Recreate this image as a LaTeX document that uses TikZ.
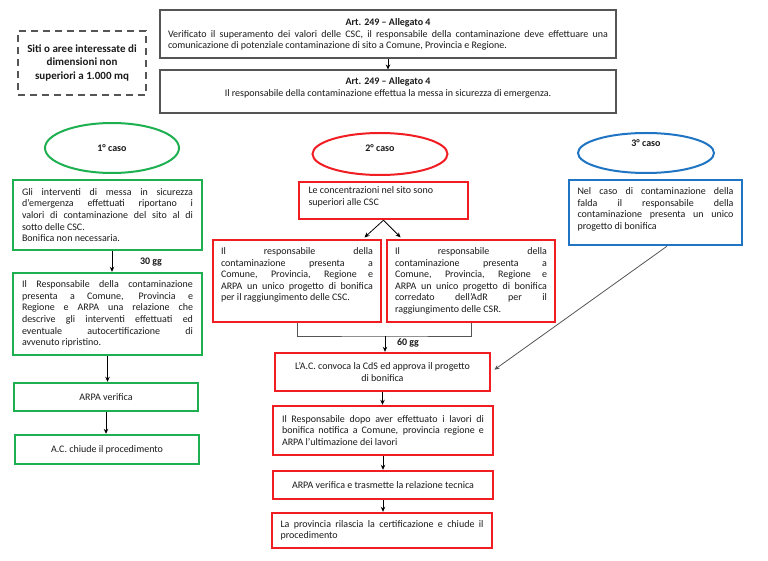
\documentclass[tikz,border=0pt]{standalone}
\usepackage{fontspec}
\setmainfont{Carlito}
\usetikzlibrary{shapes.geometric,arrows.meta}
\definecolor{cgreen}{HTML}{1DAF50}
\definecolor{cred}{HTML}{F01E23}
\definecolor{cblue}{HTML}{1F75C4}
\definecolor{cgray}{HTML}{555555}
\definecolor{txt}{HTML}{1A1A1A}
\newcommand\bxt[3]{\parbox[c][#2][t]{#1}{#3}}
\begin{document}
\begin{tikzpicture}[x=1pt,y=-1pt,
  every node/.style={font=\fontsize{10}{11.6}\selectfont, text=txt},
  box/.style={draw, rectangle, inner sep=0pt, anchor=center},
  gbox/.style={box, draw=cgreen, line width=2.4pt},
  rbox/.style={box, draw=cred, line width=2.4pt},
  bbox/.style={box, draw=cblue, line width=2.4pt},
  kbox/.style={box, draw=cgray, line width=1.1pt},
  dbox/.style={box, draw=cgray, line width=1.8pt, dash pattern=on 7pt off 5pt, align=center, font=\bfseries\fontsize{11}{13.8}\selectfont},
  oval/.style={ellipse, line width=2pt, inner sep=0pt, font=\bfseries\fontsize{10}{12}\selectfont},
  arr/.style={-{Stealth[length=5pt,width=4.5pt]}, line width=0.8pt, draw=black},
  lbl/.style={font=\bfseries\fontsize{10}{12}\selectfont}
]
\path[use as bounding box, fill=white] (0,0) rectangle (768,561);

% top
\node[dbox, minimum width=128, minimum height=64] (dash) at (82,63) {Siti o aree interessate di\\dimensioni non\\superiori a 1.000 mq};
\node[kbox, minimum width=456, minimum height=48] (t1) at (388,34) {\bxt{440pt}{31pt}{{\centering\textbf{Art. 249 – Allegato 4}\par}Verificato il superamento dei valori delle CSC, il responsabile della contaminazione deve effettuare una\linebreak comunicazione di potenziale contaminazione di sito a Comune, Provincia e Regione.}};
\node[kbox, minimum width=456, minimum height=43] (t2) at (388,91.5) {\bxt{440pt}{28pt}{\centering\textbf{Art. 249 – Allegato 4}\par Il responsabile della contaminazione effettua la messa in sicurezza di emergenza.\par}};

% case 1
\node[oval, draw=cgreen, minimum width=134, minimum height=50] (e1) at (112,148) {1° caso};
\node[gbox, minimum width=189, minimum height=70] (g1) at (107.5,215) {\parbox{171pt}{Gli interventi di messa in sicurezza\linebreak d’emergenza effettuati riportano i\linebreak valori di contaminazione del sito al di\linebreak sotto delle CSC.\par Bonifica non necessaria.}};
\node[gbox, minimum width=189, minimum height=82] (g2) at (107.5,314) {\parbox{171pt}{Il Responsabile della contaminazione\linebreak presenta a Comune, Provincia e\linebreak Regione e ARPA una relazione che\linebreak descrive gli interventi effettuati ed\linebreak eventuale autocertificazione di\linebreak avvenuto ripristino.}};
\node[gbox, minimum width=184, minimum height=28] (g3) at (106,397) {ARPA verifica};
\node[gbox, minimum width=184, minimum height=29] (g4) at (107,449.5) {A.C. chiude il procedimento};
\node[lbl] (l30) at (151,262) {30 gg};

% case 2
\node[oval, draw=cred, minimum width=135, minimum height=42, text depth=12pt] (e2) at (380,154) {2° caso};
\node[rbox, minimum width=169, minimum height=37] (r1) at (383.5,200.5) {\bxt{150pt}{28pt}{\raggedright Le concentrazioni nel sito sono\\superiori alle CSC}};
\node[rbox, minimum width=168, minimum height=82] (r2) at (297,281) {\bxt{152pt}{67pt}{Il responsabile della\linebreak contaminazione presenta a\linebreak Comune, Provincia, Regione e\linebreak ARPA un unico progetto di bonifica\linebreak per il raggiungimento delle CSC.}};
\node[rbox, minimum width=168, minimum height=82] (r3) at (471,281) {\bxt{152pt}{67pt}{Il responsabile della\linebreak contaminazione presenta a\linebreak Comune, Provincia, Regione e\linebreak ARPA un unico progetto di bonifica\linebreak corredato dell’AdR per il\linebreak raggiungimento delle CSR.}};
\node[rbox, minimum width=215, minimum height=38] (r4) at (382.5,372) {\parbox{200pt}{\centering L’A.C. convoca la CdS ed approva il progetto\\di bonifica}};
\node[rbox, minimum width=220, minimum height=49] (r5) at (383,430.5) {\parbox{202pt}{Il Responsabile dopo aver effettuato i lavori di\linebreak bonifica notifica a Comune, provincia regione e\linebreak ARPA l’ultimazione dei lavori}};
\node[rbox, minimum width=220, minimum height=28] (r6) at (383,485) {ARPA verifica e trasmette la relazione tecnica};
\node[rbox, minimum width=220, minimum height=35] (r7) at (382,530.5) {\parbox{203pt}{La provincia rilascia la certificazione e chiude il\linebreak procedimento}};
\node[lbl] (l60) at (408,343) {60 gg};

% case 3
\node[oval, draw=cblue, minimum width=136, minimum height=40, text depth=20pt] (e3) at (646,153) {3° caso};
\node[bbox, minimum width=173, minimum height=65] (b1) at (655.5,212.5) {\bxt{156pt}{50pt}{Nel caso di contaminazione della\linebreak falda il responsabile della\linebreak contaminazione presenta un unico\linebreak progetto di bonifica}};

% connectors
\draw[arr] (t1.south) -- (t2.north);
\draw[arr] (g1.south -| e1) -- (g2.north -| e1);
\draw[arr] (g2.south) -- (g2.south |- g3.north);
\draw[arr] (g3.south) -- (g3.south |- g4.north);
\draw[arr, shorten >=2pt] (r1.south) -- ([xshift=66pt]r2.north);
\draw[arr, shorten >=2pt] (r1.south) -- ([xshift=-69pt]r3.north);
\coordinate (jn) at (385,336);
\draw[line width=0.8pt, draw=cgray] (r2.south) |- (jn) -| (r3.south);
\draw[arr] (jn) -- (jn |- r4.north);
\draw[arr] (r4.south) -- (r4.south |- r5.north);
\draw[arr] (r5.south) -- (r5.south |- r6.north);
\draw[arr] (r6.south) -- (r6.south |- r7.north);
\draw[arr, draw=cgray, shorten >=4pt] ([xshift=11.5pt]b1.south) -- (r4.east);
\end{tikzpicture}
\end{document}
